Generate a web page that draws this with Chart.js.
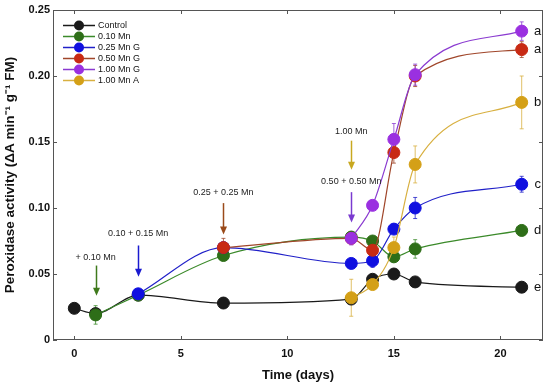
<!DOCTYPE html>
<html><head><meta charset="utf-8">
<script src="https://cdn.jsdelivr.net/npm/chart.js@4/dist/chart.umd.min.js"></script>
<style>html,body{margin:0;padding:0;background:#fff}#w{width:550px;height:385px}</style>
</head><body><div id="w"><canvas id="c"></canvas></div>
<script>
const seriesNames = ['Control','0.10 Mn','0.25 Mn G','0.50 Mn G','1.00 Mn G','1.00 Mn A'];
const controlDays = [0,1,3,7,13,14,15,16,21];
const controlVals = [0.024,0.020,0.034,0.028,0.031,0.046,0.050,0.044,0.040];
const controlErr  = [0.001,0.002,0.002,0.004,0.003,0.003,0.002,0.002,0.004];
const mn010Days = [1,3,7,13,14,15,16,21];
const mn010Vals = [0.019,0.034,0.064,0.078,0.075,0.063,0.069,0.083];
const mn010Err  = [0.007,0.002,0.003,0.003,0.003,0.004,0.007,0.004];
const mn025Days = [3,7,13,14,15,16,21];
const mn025Vals = [0.035,0.070,0.058,0.060,0.084,0.100,0.118];
const mn025Err  = [0.002,0.002,0.002,0.005,0.003,0.008,0.006];
const mn050Days = [7,13,14,15,16,21];
const mn050Vals = [0.070,0.077,0.068,0.142,0.200,0.220];
const mn050Err  = [0.007,0.003,0.003,0.008,0.008,0.006];
const mn100GDays = [13,14,15,16,21];
const mn100GVals = [0.077,0.102,0.152,0.201,0.234];
const mn100GErr  = [0.005,0.003,0.012,0.008,0.007];
const mn100ADays = [13,14,15,16,21];
const mn100AVals = [0.032,0.042,0.070,0.133,0.180];
const mn100AErr  = [0.014,0.003,0.008,0.014,0.020];
const xTicks = [0,5,10,15,20];
const yTicks = [0,0.05,0.10,0.15,0.20,0.25];
const groupLetters = ['a','a','b','c','d','e'];
const letterValues = [0.234,0.220,0.180,0.118,0.083,0.040];
const annotations = [
  {text:'+ 0.10 Mn', tx:1, ty:0.0625, ax:1, y1:0.0564, y2:0.0335, color:'#3f7a1c'},
  {text:'0.10 + 0.15 Mn', tx:3, ty:0.0810, ax:3, y1:0.0716, y2:0.048, color:'#1a1ad0'},
  {text:'0.25 + 0.25 Mn', tx:7, ty:0.112, ax:7, y1:0.1037, y2:0.080, color:'#9a4a1a'},
  {text:'1.00 Mn', tx:13, ty:0.158, ax:13, y1:0.151, y2:0.129, color:'#c8a820'},
  {text:'0.50 + 0.50 Mn', tx:13, ty:0.120, ax:13, y1:0.112, y2:0.089, color:'#7a3ad0'}
];

const pts = (d,v)=>d.map((x,i)=>({x:x,y:v[i]}));
const styles = [
  {line:'#1a1a1a', pt:'#1a1a1a', order:5},
  {line:'#3b8a2a', pt:'#2e6e18', order:4},
  {line:'#2020c8', pt:'#1010e0', order:3},
  {line:'#a0462a', pt:'#c82a14', order:2},
  {line:'#8a3ad0', pt:'#9a30e0', order:0},
  {line:'#d8b040', pt:'#d4a017', order:1}
];
const all = [[controlDays,controlVals,controlErr],[mn010Days,mn010Vals,mn010Err],[mn025Days,mn025Vals,mn025Err],
  [mn050Days,mn050Vals,mn050Err],[mn100GDays,mn100GVals,mn100GErr],[mn100ADays,mn100AVals,mn100AErr]];
const datasets = all.map((s,i)=>({
  label: seriesNames[i], data: pts(s[0],s[1]), errs: s[2],
  borderColor: styles[i].line, backgroundColor: styles[i].pt, pointBackgroundColor: styles[i].pt,
  pointBorderColor: styles[i].pt, pointRadius: 6, pointBorderWidth: 1, borderWidth: 1.2,
  cubicInterpolationMode: 'monotone', order: styles[i].order, fill:false
}));

const F = '"Liberation Sans", Arial, sans-serif';
const extras = {
  id:'extras',
  beforeDatasetsDraw(chart){
    const ctx=chart.ctx, xs=chart.scales.x, ys=chart.scales.y;
    ctx.save(); ctx.lineWidth=0.8;
    chart.data.datasets.forEach(ds=>{
      ctx.strokeStyle=ds.borderColor;
      ds.data.forEach((p,i)=>{
        const e=ds.errs[i]; const x=xs.getPixelForValue(p.x);
        const a=ys.getPixelForValue(p.y+e), b=ys.getPixelForValue(p.y-e);
        ctx.beginPath(); ctx.moveTo(x,a); ctx.lineTo(x,b);
        ctx.moveTo(x-2,a); ctx.lineTo(x+2,a); ctx.moveTo(x-2,b); ctx.lineTo(x+2,b); ctx.stroke();
      });
    });
    ctx.restore();
  },
  afterDraw(chart){
    const ctx=chart.ctx, xs=chart.scales.x, ys=chart.scales.y, ca=chart.chartArea;
    ctx.save();
    ctx.strokeStyle='#555'; ctx.lineWidth=1;
    ctx.strokeRect(ca.left+0.5, ca.top+0.5, ca.right-ca.left-1, ca.bottom-ca.top-1);
    ctx.beginPath();
    xTicks.forEach(v=>{const x=Math.round(xs.getPixelForValue(v))+0.5;
      ctx.moveTo(x,ca.bottom); ctx.lineTo(x,ca.bottom-4); ctx.moveTo(x,ca.top); ctx.lineTo(x,ca.top+4);});
    yTicks.forEach(v=>{const y=Math.round(ys.getPixelForValue(v))+0.5;
      ctx.moveTo(ca.left,y); ctx.lineTo(ca.left+4,y); ctx.moveTo(ca.right,y); ctx.lineTo(ca.right-4,y);});
    ctx.stroke();
    ctx.font='9px '+F; ctx.textAlign='center'; ctx.textBaseline='middle';
    annotations.forEach(a=>{
      ctx.fillStyle='#222'; ctx.fillText(a.text, xs.getPixelForValue(a.tx), ys.getPixelForValue(a.ty));
      const x=Math.round(xs.getPixelForValue(a.ax))+0.5, y1=ys.getPixelForValue(a.y1), y2=ys.getPixelForValue(a.y2);
      ctx.strokeStyle=a.color; ctx.fillStyle=a.color; ctx.lineWidth=1.5;
      ctx.beginPath(); ctx.moveTo(x,y1); ctx.lineTo(x,y2-6); ctx.stroke();
      ctx.beginPath(); ctx.moveTo(x-3.5,y2-8); ctx.lineTo(x+3.5,y2-8); ctx.lineTo(x,y2); ctx.closePath(); ctx.fill();
    });
    ctx.font='13px '+F; ctx.fillStyle='#111'; ctx.textAlign='center';
    groupLetters.forEach((l,i)=>ctx.fillText(l, xs.getPixelForValue(21.75), ys.getPixelForValue(letterValues[i])));
    ctx.font='9px '+F; ctx.textAlign='left';
    chart.data.datasets.forEach((ds,i)=>{
      const y=25+i*11;
      ctx.strokeStyle=ds.borderColor; ctx.lineWidth=1.5;
      ctx.beginPath(); ctx.moveTo(63,y+0.5); ctx.lineTo(95,y+0.5); ctx.stroke();
      ctx.fillStyle=ds.pointBackgroundColor; ctx.beginPath(); ctx.arc(79,y+0.5,5,0,Math.PI*2); ctx.fill();
      ctx.fillStyle='#111'; ctx.fillText(ds.label, 98, y+1);
    });
    ctx.restore();
  }
};

new Chart(document.getElementById('c'), {
  type:'line',
  data:{datasets},
  options:{
    responsive:true, maintainAspectRatio:false, animation:false,
    layout:{padding:{top:10,right:7,left:0,bottom:0}},
    plugins:{legend:{display:false}, tooltip:{enabled:false}},
    scales:{
      x:{type:'linear', min:-1, max:22,
        afterBuildTicks:ax=>{ax.ticks=xTicks.map(v=>({value:v}));},
        afterFit:ax=>{ax.height=45;},
        grid:{display:false, drawTicks:false}, border:{display:false},
        ticks:{padding:7, color:'#111', font:{family:F, size:11, weight:'bold'}},
        title:{display:true, text:'Time (days)', color:'#111', padding:{top:0,bottom:2}, font:{family:F, size:13, weight:'bold'}}
      },
      y:{type:'linear', min:0, max:0.25,
        afterBuildTicks:ax=>{ax.ticks=yTicks.map(v=>({value:v}));},
        afterFit:ax=>{ax.width=53;},
        grid:{display:false, drawTicks:false}, border:{display:false},
        ticks:{padding:3, color:'#111', font:{family:F, size:11, weight:'bold'}, callback:v=>v===0?'0':v.toFixed(2)},
        title:{display:true, text:'Peroxidase activity (ΔA min⁻¹ g⁻¹ FM)', color:'#111', padding:{top:2,bottom:0}, font:{family:F, size:13.5, weight:'bold'}}
      }
    }
  },
  plugins:[extras]
});
</script></body></html>
